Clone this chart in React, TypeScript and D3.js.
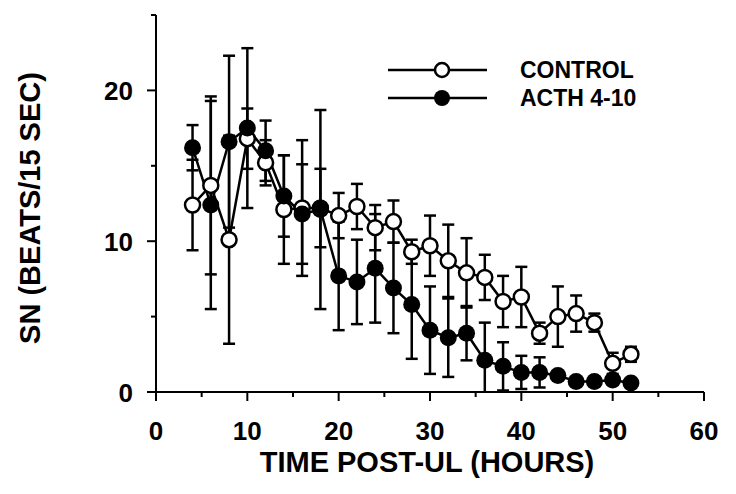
import React from "react";
import * as d3 from "d3";

// time post-UL (hours) and mean SN (+/- SEM) per group
const hours = [4, 6, 8, 10, 12, 14, 16, 18, 20, 22, 24, 26, 28, 30, 32, 34, 36, 38, 40, 42, 44, 46, 48, 50, 52];
const controlMean = [12.4, 13.7, 10.1, 16.8, 15.2, 12.1, 12.2, 12.2, 11.7, 12.3, 10.9, 11.3, 9.3, 9.7, 8.7, 7.9, 7.6, 6.0, 6.3, 3.9, 5.0, 5.2, 4.6, 1.9, 2.5];
const controlErr = [3.0, 5.9, 6.9, 2.0, 1.5, 3.6, 4.5, 2.6, 1.5, 1.5, 1.5, 1.4, 0.8, 2.0, 2.4, 2.3, 1.5, 1.7, 2.0, 0.7, 2.0, 1.2, 0.6, 0.7, 0.5];
const acthMean = [16.2, 12.4, 16.6, 17.5, 16.0, 13.0, 11.8, 12.1, 7.7, 7.3, 8.2, 6.9, 5.8, 4.1, 3.6, 3.9, 2.1, 1.7, 1.3, 1.3, 1.1, 0.7, 0.7, 0.8, 0.6];
const acthErr = [1.5, 6.9, 5.7, 5.3, 2.0, 2.7, 3.3, 6.6, 3.6, 2.8, 3.6, 3.0, 3.6, 2.9, 2.6, 1.8, 2.5, 1.6, 1.1, 1.0, 0, 0, 0, 0, 0];

const xTicks = [0, 10, 20, 30, 40, 50, 60];
const xMinor = [5, 15, 25, 35, 45, 55];
const yTicks = [0, 10, 20];
const yMinor = [5, 15, 25];

const legendLabels = ["CONTROL", "ACTH 4-10"];

const W = 736;
const H = 494;
const font = "'Liberation Sans', Arial, Helvetica, sans-serif";

export default function App() {
  const x = d3.scaleLinear().domain([0, 60]).range([156, 704]);
  const y = d3.scaleLinear().domain([0, 25]).range([392, 15]);

  const line = d3
    .line<number>()
    .x((_, i) => x(hours[i]))
    .y((d) => y(d));

  const errBars = (means: number[], errs: number[], key: string) =>
    means.map((m, i) => {
      if (!errs[i]) return null;
      const cx = x(hours[i]);
      const lo = y(Math.max(0, m - errs[i]));
      const hi = y(m + errs[i]);
      return (
        <g key={key + i} stroke="#000" strokeWidth={2.5}>
          <line x1={cx} x2={cx} y1={lo} y2={hi} />
          <line x1={cx - 6} x2={cx + 6} y1={hi} y2={hi} />
          {m - errs[i] > 0 && <line x1={cx - 6} x2={cx + 6} y1={lo} y2={lo} />}
        </g>
      );
    });

  return (
    <svg width={W} height={H} style={{ position: "absolute", left: 0, top: 0, background: "#fff" }}>
      <rect width={W} height={H} fill="#fff" />

      {/* axes */}
      <g stroke="#000" strokeWidth={2}>
        <line x1={x(0)} x2={x(60)} y1={y(0)} y2={y(0)} />
        <line x1={x(0)} x2={x(0)} y1={y(0)} y2={y(25)} />
        {xTicks.map((t) => (
          <line key={"xt" + t} x1={x(t)} x2={x(t)} y1={y(0)} y2={y(0) + 9} />
        ))}
        {xMinor.map((t) => (
          <line key={"xm" + t} x1={x(t)} x2={x(t)} y1={y(0)} y2={y(0) + 5} />
        ))}
        {yTicks.map((t) => (
          <line key={"yt" + t} x1={x(0) - 9} x2={x(0)} y1={y(t)} y2={y(t)} />
        ))}
        {yMinor.map((t) => (
          <line key={"ym" + t} x1={x(0) - 5} x2={x(0)} y1={y(t)} y2={y(t)} />
        ))}
      </g>

      <g fontFamily={font} fontWeight="bold" fontSize={26} fill="#000">
        {xTicks.map((t) => (
          <text key={"xl" + t} x={x(t)} y={y(0) + 48} textAnchor="middle">
            {t}
          </text>
        ))}
        {yTicks.map((t) => (
          <text key={"yl" + t} x={x(0) - 23} y={y(t) + 10} textAnchor="end">
            {t}
          </text>
        ))}
        <text x={427} y={472} textAnchor="middle" fontSize={29}>
          TIME POST-UL (HOURS)
        </text>
        <text transform="translate(40,208) rotate(-90)" textAnchor="middle" fontSize={29}>
          SN (BEATS/15 SEC)
        </text>
      </g>

      {/* error bars */}
      {errBars(controlMean, controlErr, "ce")}
      {errBars(acthMean, acthErr, "ae")}

      {/* series lines */}
      <path d={line(controlMean) || ""} fill="none" stroke="#000" strokeWidth={2.5} />
      <path d={line(acthMean) || ""} fill="none" stroke="#000" strokeWidth={2.5} />

      {controlMean.map((m, i) => (
        <circle key={"c" + i} cx={x(hours[i])} cy={y(m)} r={7.5} fill="#fff" stroke="#000" strokeWidth={2.5} />
      ))}
      {acthMean.map((m, i) => (
        <circle key={"a" + i} cx={x(hours[i])} cy={y(m)} r={8.5} fill="#000" />
      ))}

      {/* legend */}
      <g>
        <line x1={388} x2={487} y1={70} y2={70} stroke="#000" strokeWidth={2.5} />
        <circle cx={442} cy={70} r={7} fill="#fff" stroke="#000" strokeWidth={2.5} />
        <line x1={388} x2={487} y1={98} y2={98} stroke="#000" strokeWidth={2.5} />
        <circle cx={442} cy={98} r={8} fill="#000" />
        {legendLabels.map((l, i) => (
          <text key={l} x={520} y={78 + i * 28} fontFamily={font} fontWeight="bold" fontSize={23}>
            {l}
          </text>
        ))}
      </g>
    </svg>
  );
}
